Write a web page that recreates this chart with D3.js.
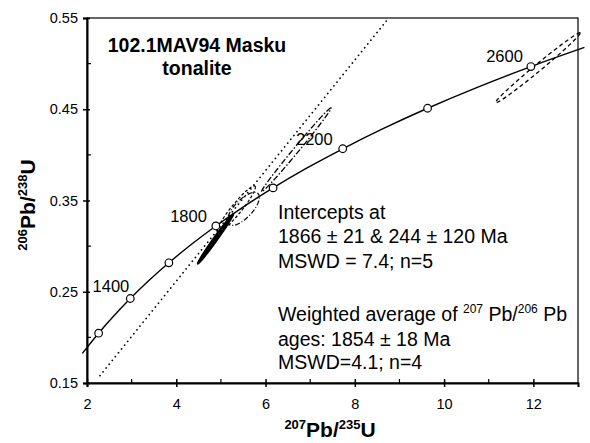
<!DOCTYPE html>
<html>
<head>
    <meta charset="utf-8">
    <script src="https://cdn.jsdelivr.net/npm/d3@7"></script>
    <style>
        body { margin: 0; background: white; }
        svg { display: block; font-family: "Liberation Sans", Arial, sans-serif; }
    </style>
</head>
<body>
<div id="chart"></div>
<script>
    // concordia curve (207Pb/235U, 206Pb/238U)
    const concX = [1.897, 1.955, 2.260, 2.598, 2.970, 3.381, 3.834, 4.335, 4.887, 5.496, 6.169, 6.910, 7.729, 8.633, 9.630, 10.730, 11.944, 13.144];
    const concY = [0.1824, 0.1861, 0.2046, 0.2234, 0.2426, 0.2620, 0.2817, 0.3018, 0.3221, 0.3428, 0.3638, 0.3851, 0.4067, 0.4287, 0.4511, 0.4738, 0.4968, 0.5178];
    const concAge = [1080, 1100, 1200, 1300, 1400, 1500, 1600, 1700, 1800, 1900, 2000, 2100, 2200, 2300, 2400, 2500, 2600, 2690];
    const markerAges = [1200, 1400, 1600, 1800, 2000, 2200, 2400, 2600];
    const labelAges = [1400, 1800, 2200, 2600];

    // discordia (dotted)
    const discX = [2.29, 8.76];
    const discY = [0.158, 0.55];

    // error ellipses: centre, sigma x, sigma y, correlation
    const ellX = [4.879, 5.348, 5.504, 6.688, 12.10];
    const ellY = [0.3079, 0.3408, 0.3408, 0.4055, 0.4954];
    const ellSx = [0.402, 0.424, 0.357, 0.78, 0.949];
    const ellSy = [0.0274, 0.0252, 0.0181, 0.04605, 0.0384];
    const ellRho = [0.99, 0.94, 0.7, 0.995, 0.9916];

    const xTicks = [2, 4, 6, 8, 10, 12];
    const xMinor = [3, 5, 7, 9, 11];
    const yTicks = [0.15, 0.25, 0.35, 0.45, 0.55];
    const yMinor = [0.20, 0.30, 0.40, 0.50];

    const width = 590, height = 443;
    const margin = {top: 18, right: 12, bottom: 60, left: 87};

    const svg = d3.select("#chart").append("svg")
        .attr("width", width)
        .attr("height", height);

    const x = d3.scaleLinear().domain([2, 13]).range([margin.left, width - margin.right]);
    const y = d3.scaleLinear().domain([0.15, 0.55]).range([height - margin.bottom, margin.top]);

    // frame
    svg.append("rect")
        .attr("x", x(2)).attr("y", y(0.55))
        .attr("width", x(13) - x(2)).attr("height", y(0.15) - y(0.55))
        .attr("fill", "none").attr("stroke", "#000").attr("stroke-width", 1.2);

    // axes: major ticks cross the axis, minor ticks point inward
    const xAxis = d3.axisBottom(x).tickValues(xTicks).tickSize(4).tickPadding(12).tickFormat(d3.format("d"));
    const gx = svg.append("g").attr("transform", `translate(0,${y(0.15)})`).call(xAxis);
    gx.selectAll(".tick line").attr("y1", -4).attr("stroke-width", 1.5);
    gx.select(".domain").attr("stroke-width", 2);
    gx.selectAll("text").attr("font-size", 14.5).attr("font-family", "Liberation Sans, Arial");
    gx.selectAll(".minor").data(xMinor).join("line")
        .attr("x1", d => x(d)).attr("x2", d => x(d))
        .attr("y1", 0).attr("y2", -4).attr("stroke", "#000").attr("stroke-width", 1.2);

    const yAxis = d3.axisLeft(y).tickValues(yTicks).tickSize(4).tickPadding(5).tickFormat(d3.format(".2f"));
    const gy = svg.append("g").attr("transform", `translate(${x(2)},0)`).call(yAxis);
    gy.selectAll(".tick line").attr("x1", 3).attr("stroke-width", 1.5);
    gy.select(".domain").attr("stroke-width", 2);
    gy.selectAll("text").attr("font-size", 14.5).attr("font-family", "Liberation Sans, Arial");
    gy.selectAll(".minor").data(yMinor).join("line")
        .attr("y1", d => y(d)).attr("y2", d => y(d))
        .attr("x1", 0).attr("x2", 4).attr("stroke", "#000").attr("stroke-width", 1.2);

    // discordia
    svg.append("line")
        .attr("x1", x(discX[0])).attr("y1", y(discY[0]))
        .attr("x2", x(discX[1])).attr("y2", y(discY[1]))
        .attr("stroke", "#000").attr("stroke-width", 1.7)
        .attr("stroke-linecap", "round")
        .attr("stroke-dasharray", "0.1,4.8");

    // ellipses
    const ellStyle = [
        {fill: "#000", dash: null, sw: 1.5},
        {fill: "none", dash: "3,2", sw: 1.2},
        {fill: "none", dash: "5,2,1,2", sw: 1.2},
        {fill: "none", dash: "6,2,1.5,2", sw: 1.3},
        {fill: "none", dash: "4,3", sw: 1.3}
    ];
    ellX.forEach((cx, i) => {
        const pts = d3.range(0, 361, 4).map(a => {
            const t = a * Math.PI / 180;
            const dx = ellSx[i] * Math.cos(t);
            const dy = ellSy[i] * (ellRho[i] * Math.cos(t) + Math.sqrt(1 - ellRho[i] * ellRho[i]) * Math.sin(t));
            return [x(cx + dx), y(ellY[i] + dy)];
        });
        svg.append("path")
            .attr("d", d3.line()(pts) + "Z")
            .attr("fill", ellStyle[i].fill)
            .attr("stroke", "#000")
            .attr("stroke-width", ellStyle[i].sw)
            .attr("stroke-dasharray", ellStyle[i].dash);
    });

    // concordia
    const conc = concX.map((d, i) => ({age: concAge[i], x: d, y: concY[i]}));
    svg.append("path")
        .datum(conc)
        .attr("d", d3.line().x(d => x(d.x)).y(d => y(d.y)).curve(d3.curveCatmullRom))
        .attr("fill", "none").attr("stroke", "#000").attr("stroke-width", 1.4);

    const marks = conc.filter(d => markerAges.includes(d.age));
    svg.selectAll(".mk").data(marks).join("circle")
        .attr("cx", d => x(d.x)).attr("cy", d => y(d.y)).attr("r", 3.8)
        .attr("fill", "white").attr("stroke", "#000").attr("stroke-width", 1.2);

    const labOff = {1400: [-1, -7], 1800: [-9, -4], 2200: [-10, -4], 2600: [-8, -5]};
    svg.selectAll(".lab").data(conc.filter(d => labelAges.includes(d.age))).join("text")
        .attr("x", d => x(d.x) + labOff[d.age][0])
        .attr("y", d => y(d.y) + labOff[d.age][1])
        .attr("text-anchor", "end").attr("font-size", 16.5)
        .text(d => d.age);

    // title
    svg.append("text").attr("x", 197).attr("y", 52).attr("text-anchor", "middle")
        .attr("font-size", 19.5).attr("font-weight", "bold").text("102.1MAV94 Masku");
    svg.append("text").attr("x", 197).attr("y", 75).attr("text-anchor", "middle")
        .attr("font-size", 19.5).attr("font-weight", "bold").text("tonalite");

    // annotation
    const note = svg.append("g").attr("font-size", 19.5);
    note.append("text").attr("x", 278).attr("y", 219).text("Intercepts at");
    note.append("text").attr("x", 278).attr("y", 243).text("1866 \u00b1 21 & 244 \u00b1 120 Ma");
    note.append("text").attr("x", 278).attr("y", 268).text("MSWD = 7.4; n=5");
    const wt = note.append("text").attr("x", 278).attr("y", 321);
    wt.append("tspan").text("Weighted average of ");
    wt.append("tspan").attr("font-size", 12).attr("dy", -8).text("207");
    wt.append("tspan").attr("dy", 8).text(" Pb/");
    wt.append("tspan").attr("font-size", 12).attr("dy", -8).text("206");
    wt.append("tspan").attr("dy", 8).text(" Pb");
    note.append("text").attr("x", 278).attr("y", 346).text("ages: 1854 \u00b1 18 Ma");
    note.append("text").attr("x", 278).attr("y", 369).text("MSWD=4.1; n=4");

    // axis titles
    const xt = svg.append("text").attr("x", 330).attr("y", 437).attr("text-anchor", "middle")
        .attr("font-weight", "bold").attr("font-size", 21);
    xt.append("tspan").attr("font-size", 13).attr("dy", -8).text("207");
    xt.append("tspan").attr("dy", 8).text("Pb/");
    xt.append("tspan").attr("font-size", 13).attr("dy", -8).text("235");
    xt.append("tspan").attr("dy", 8).text("U");

    const yt = svg.append("text").attr("transform", "translate(35,205) rotate(-90)").attr("text-anchor", "middle")
        .attr("font-weight", "bold").attr("font-size", 21);
    yt.append("tspan").attr("font-size", 13).attr("dy", -8).text("206");
    yt.append("tspan").attr("dy", 8).text("Pb/");
    yt.append("tspan").attr("font-size", 13).attr("dy", -8).text("238");
    yt.append("tspan").attr("dy", 8).text("U");
</script>
</body>
</html>
